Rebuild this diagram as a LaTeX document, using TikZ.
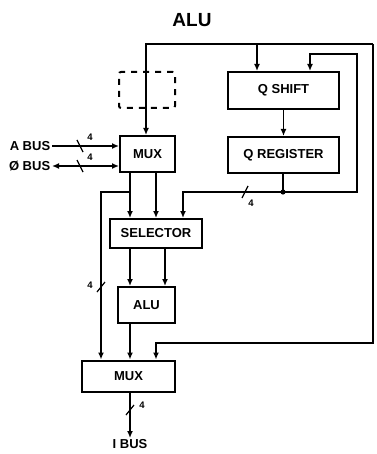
\documentclass[tikz,border=0pt]{standalone}
\usepackage{fontspec}
\setmainfont{Liberation Sans}
\usepackage{tikz}
\usetikzlibrary{positioning, arrows.meta, calc}

\begin{document}
\begin{tikzpicture}[
  x=1pt, y=-1pt,
  line width=1.6pt,
  box/.style={draw, line width=2pt, inner sep=0pt, font=\fontsize{13}{15}\selectfont\bfseries, align=center},
  ghost/.style={draw, dashed, dash pattern=on 6pt off 6pt, rounded corners=2pt, line width=2pt, minimum width=56, minimum height=36},
  arr/.style={-{Latex[length=7pt, width=6pt]}},
  cutmark/.style={line width=1.2pt},
  wlabel/.style={font=\fontsize{9.5}{11}\selectfont\bfseries, inner sep=1pt},
  buslabel/.style={font=\fontsize{13}{15}\selectfont\bfseries, inner sep=1pt}
]
\useasboundingbox (0,0) rectangle (376,454);

\node[font=\fontsize{19}{22}\selectfont\bfseries] (title) at (192,20) {ALU};

% blocks
\node[box, minimum width=55, minimum height=36] (muxa) at (147.5,154) {MUX};
\node[ghost] (spare) at (147,90) {};
\node[box, minimum width=111, minimum height=37] (qshift) at (283.5,90.5) {Q SHIFT};
\node[box, minimum width=111, minimum height=36] (qreg) at (283.5,155) {Q REGISTER};
\node[box, minimum width=92, minimum height=29] (sel) at (156,233.5) {SELECTOR};
\node[box, minimum width=57, minimum height=36] (alu) at (146.5,305) {ALU};
\node[box, minimum width=93, minimum height=31] (muxb) at (128.5,376) {MUX};

\node[buslabel, anchor=east] (abus) at (52,146) {A BUS};
\node[buslabel, anchor=east] (dbus) at (52,166) {Ø BUS};
\node[buslabel, anchor=north] (ibus) at (130,438) {I BUS};

% corner points
\coordinate (tl) at (146,44);
\coordinate (tr) at (373,44);
\coordinate (br) at (373,343);
\coordinate (bl) at (156,343);
\coordinate (qa) at (257,44);
\coordinate (qj) at (283,192);
\coordinate (qr) at (357,54);
\coordinate (qs) at (310,54);
\coordinate (sj) at (183,192);
\coordinate (m1) at (130,172);
\coordinate (m2) at (156,172);
\coordinate (lj) at (130,192);
\coordinate (lc) at (101,192);
\coordinate (s1) at (130,248);
\coordinate (s2) at (165,248);
\coordinate (a1) at (130,323);
\coordinate (o1) at (130,391);

% inputs
\draw[arr] (abus) -- (abus -| muxa.west);
\draw[{Latex[length=7pt, width=6pt]}-{Latex[length=7pt, width=6pt]}] (dbus) -- (dbus -| muxa.west);

% feedback from the top bus
\draw[arr] (tr) -- (tl) -- (tl |- muxa.north);
\draw[arr] (qa) -- (qa |- qshift.north);
\draw[arr] (tr) -- (br) -- (bl) -- (bl |- muxb.north);

% Q path
\draw[arr] (qshift) -- (qreg);
\draw (qj |- qreg.south) -- (qj);
\fill (qj) circle (2.6);
\draw[arr] (qj) -| (qr) -| (qshift.north -| qs);
\draw[arr] (qj) -- (sj) -- (sj |- sel.north);

% data path
\draw[arr] (m1) -- (m1 |- sel.north);
\draw[arr] (m2) -- (m2 |- sel.north);
\draw[arr] (lj) -- (lc) -- (lc |- muxb.north);
\draw[arr] (s1) -- (s1 |- alu.north);
\draw[arr] (s2) -- (s2 |- alu.north);
\draw[arr] (a1) -- (a1 |- muxb.north);
\draw[arr] (o1) -- (ibus);

% bus widths
\draw[cutmark] (77,140) -- (83,152);
\node[wlabel] (wa) at (90,137) {4};
\draw[cutmark] (77,160) -- (83,172);
\node[wlabel] (wd) at (90,157) {4};
\draw[cutmark] (242,198) -- (248,186);
\node[wlabel] (wq) at (251,203) {4};
\draw[cutmark] (97,292) -- (105,282);
\node[wlabel] (wl) at (90,285) {4};
\draw[cutmark] (126,415) -- (134,405);
\node[wlabel] (wo) at (142,405) {4};
\end{tikzpicture}
\end{document}
